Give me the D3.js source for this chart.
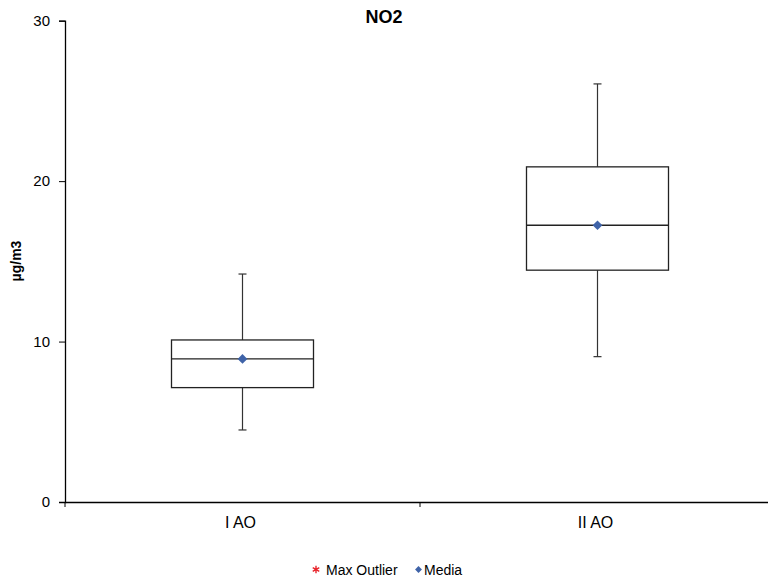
<!DOCTYPE html>
<html><head><meta charset="utf-8">
<script src="https://cdn.jsdelivr.net/npm/d3@7"></script>
<style>body{margin:0;background:#fff}text{font-family:"Liberation Sans",Arial,sans-serif}</style>
</head><body><svg id="c" width="768" height="581"></svg>
<script>
const categories = ["I AO", "II AO"];
const mins = [4.49, 9.06];
const q1s = [7.13, 14.45];
const medians = [8.92, 17.25];
const q3s = [10.10, 20.89];
const maxs = [14.21, 26.06];
const means = [8.92, 17.25];
const yTicks = [0, 10, 20, 30];

(function () {
const svg = d3.select("#c");
const mLeft = 65, mRight = 775, mTop = 20.7, mBottom = 502;
const x = d3.scaleBand().domain(categories).range([mLeft, mRight]);
const y = d3.scaleLinear().domain([0, 30]).range([mBottom, mTop]);

const ya = svg.append("g").attr("transform", `translate(${mLeft},0)`)
  .call(d3.axisLeft(y).tickValues(yTicks).tickSize(6).tickPadding(9));
ya.select(".domain").attr("stroke", "#000").attr("stroke-width", 1.3);
ya.selectAll(".tick line").attr("stroke", "#000");
ya.selectAll(".tick text").attr("font-size", 15).attr("fill", "#000");

const xa = svg.append("g").attr("transform", `translate(0,${mBottom})`)
  .call(d3.axisBottom(x).tickSize(0).tickPadding(15));
xa.select(".domain").attr("stroke", "#000").attr("stroke-width", 1.3);
xa.selectAll(".tick text").attr("font-size", 16).attr("fill", "#000").attr("dx", -2);
const bounds = [mLeft, mLeft + x.step(), mLeft + 2 * x.step()];
svg.append("g").selectAll("line").data(bounds).join("line")
  .attr("x1", d => d).attr("x2", d => d).attr("y1", mBottom).attr("y2", mBottom + 5)
  .attr("stroke", "#000");

const data = categories.map((c, i) => ({c, min: mins[i], q1: q1s[i], med: medians[i], q3: q3s[i], max: maxs[i], mean: means[i]}));
const bw = x.bandwidth() * 0.4;
const cap = 8;
const g = svg.append("g").selectAll("g").data(data).join("g")
  .attr("transform", d => `translate(${x(d.c) + x.bandwidth() / 2},0)`);
g.append("line").attr("x1", 0).attr("x2", 0).attr("y1", d => y(d.max)).attr("y2", d => y(d.q3)).attr("stroke", "#333").attr("stroke-width", 1.2);
g.append("line").attr("x1", 0).attr("x2", 0).attr("y1", d => y(d.q1)).attr("y2", d => y(d.min)).attr("stroke", "#333").attr("stroke-width", 1.2);
g.append("line").attr("x1", -cap / 2).attr("x2", cap / 2).attr("y1", d => y(d.max)).attr("y2", d => y(d.max)).attr("stroke", "#333").attr("stroke-width", 1.2);
g.append("line").attr("x1", -cap / 2).attr("x2", cap / 2).attr("y1", d => y(d.min)).attr("y2", d => y(d.min)).attr("stroke", "#333").attr("stroke-width", 1.2);
g.append("rect").attr("x", -bw / 2).attr("width", bw).attr("y", d => y(d.q3)).attr("height", d => y(d.q1) - y(d.q3))
  .attr("fill", "#fff").attr("stroke", "#222").attr("stroke-width", 1.3);
g.append("line").attr("x1", -bw / 2).attr("x2", bw / 2).attr("y1", d => y(d.med)).attr("y2", d => y(d.med)).attr("stroke", "#222").attr("stroke-width", 1.3);
g.append("path").attr("d", d3.symbol(d3.symbolDiamond2, 60)).attr("transform", d => `translate(0,${y(d.mean)})`).attr("fill", "#3f63a8");

svg.append("text").attr("x", 384).attr("y", 23).attr("text-anchor", "middle").attr("font-size", 18).attr("font-weight", "bold").text("NO2");
svg.append("text").attr("transform", "translate(20.5,261) rotate(-90)").attr("text-anchor", "middle").attr("font-size", 14).attr("font-weight", "bold").text("µg/m3");

const leg = svg.append("g").attr("font-size", 14);
leg.append("path").attr("d", d3.symbol(d3.symbolAsterisk, 40)).attr("transform", "translate(316,569.5)").attr("stroke", "#e8242b").attr("stroke-width", 1.4);
leg.append("text").attr("x", 326).attr("y", 574.5).text("Max Outlier");
leg.append("path").attr("d", d3.symbol(d3.symbolDiamond2, 30)).attr("transform", "translate(418.5,569.5)").attr("fill", "#3f63a8");
leg.append("text").attr("x", 424).attr("y", 574.5).text("Media");
})();
</script></body></html>
